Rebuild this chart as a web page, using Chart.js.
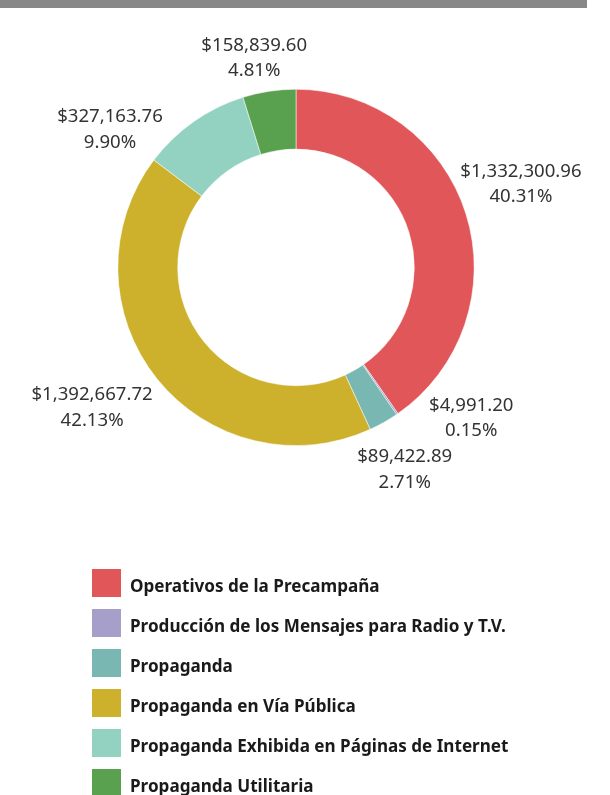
<!DOCTYPE html>
<html>
<head>
<meta charset="utf-8">
<script src="https://cdn.jsdelivr.net/npm/chart.js@4/dist/chart.umd.min.js"></script>
<style>
  html, body { margin: 0; padding: 0; background: #fff; }
  #wrap { position: relative; width: 610px; height: 795px; overflow: hidden; }
  #topbar { position: absolute; left: 0; top: 0; width: 587px; height: 8px; background: #888888; }
  canvas { position: absolute; left: 0; top: 0; }
</style>
</head>
<body>
<div id="wrap">
  <canvas id="c" width="610" height="795"></canvas>
  <div id="topbar"></div>
</div>
<script>
// ---- Data ----
const categories = [
  "Operativos de la Precampaña",
  "Producción de los Mensajes para Radio y T.V.",
  "Propaganda",
  "Propaganda en Vía Pública",
  "Propaganda Exhibida en Páginas de Internet",
  "Propaganda Utilitaria"
];
const amounts = [1332300.96, 4991.20, 89422.89, 1392667.72, 327163.76, 158839.60];
const amountLabels = ["$1,332,300.96", "$4,991.20", "$89,422.89", "$1,392,667.72", "$327,163.76", "$158,839.60"];
const percentLabels = ["40.31%", "0.15%", "2.71%", "42.13%", "9.90%", "4.81%"];
const colors = ["#e15759", "#a59fca", "#79b7b2", "#cdb12c", "#93d2c1", "#59a14f"];

// label block offsets from the slice's outer mid point (layout only)
const labelOffsets = [[55, -30], [74, 4], [21, 47], [-65, 28.5], [-83.5, 8], [-15, -33]];

const labelPlugin = {
  id: 'sliceLabels',
  afterDatasetsDraw(chart) {
    const ctx = chart.ctx;
    const meta = chart.getDatasetMeta(0);
    ctx.save();
    ctx.font = '18.6px "Noto Sans", sans-serif';
    ctx.fillStyle = '#333333';
    ctx.textAlign = 'center';
    ctx.textBaseline = 'middle';
    meta.data.forEach((arc, i) => {
      const p = arc.getProps(['x', 'y', 'startAngle', 'endAngle', 'outerRadius'], true);
      const mid = (p.startAngle + p.endAngle) / 2;
      const ox = p.x + Math.cos(mid) * p.outerRadius;
      const oy = p.y + Math.sin(mid) * p.outerRadius;
      const cx = ox + labelOffsets[i][0];
      const cy = oy + labelOffsets[i][1];
      ctx.fillText(amountLabels[i], cx, cy - 12.75);
      ctx.fillText(percentLabels[i], cx, cy + 12.75);
    });
    ctx.restore();
  }
};

const legendPlugin = {
  id: 'customLegend',
  afterDraw(chart) {
    const ctx = chart.ctx;
    ctx.save();
    ctx.font = 'bold 17.1px "Noto Sans", sans-serif';
    ctx.textAlign = 'left';
    ctx.textBaseline = 'alphabetic';
    categories.forEach((name, i) => {
      const y = 569 + i * 40;
      ctx.fillStyle = colors[i];
      ctx.fillRect(92, y, 29, 28);
      ctx.fillStyle = '#1a1a1a';
      ctx.fillText(name, 130, y + 22.5);
    });
    ctx.restore();
  }
};

new Chart(document.getElementById('c'), {
  type: 'doughnut',
  data: {
    labels: categories,
    datasets: [{
      data: amounts,
      backgroundColor: colors,
      borderColor: '#ffffff',
      borderWidth: 0.5
    }]
  },
  options: {
    responsive: false,
    animation: false,
    cutout: '66.4%',
    layout: { padding: { left: 117.6, right: 135.6, top: 89, bottom: 349.2 } },
    plugins: {
      legend: { display: false },
      tooltip: { enabled: false }
    }
  },
  plugins: [labelPlugin, legendPlugin]
});
</script>
</body>
</html>
